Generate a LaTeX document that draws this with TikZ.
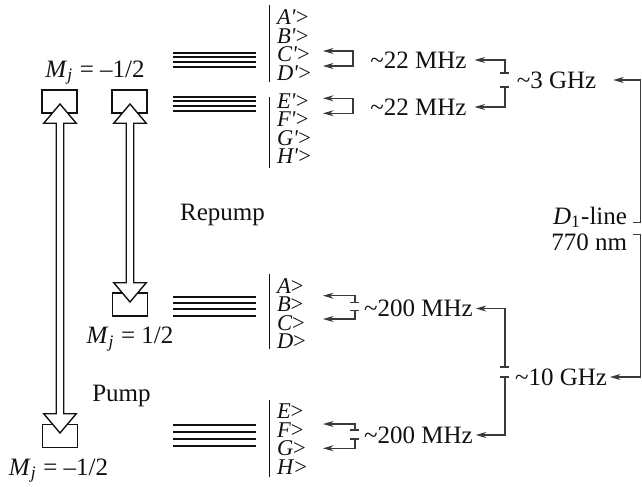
\documentclass[tikz,border=0pt]{standalone}
\usepackage{fontspec}
\setmainfont{Liberation Serif}
\usepackage{tikz}
\usetikzlibrary{positioning,arrows.meta,calc}
\definecolor{ink}{HTML}{111111}
\definecolor{wire}{HTML}{3A3A3A}
\newcommand{\ket}[1]{\textit{#1}>}
\newcommand{\ketp}[1]{\textit{#1\textquotesingle}>}
\newcommand{\Mj}{\textit{M}\textsubscript{\textit{j}} = }
\newcommand{\hollowarrow}[2]{%
  \draw[hollowarr] let \p1=(#1), \p2=(#2) in
    (\p1) -- (\x1+6.5pt,\y1-7.7pt) -- (\x1+1.5pt,\y1-7.7pt) -- (\x1+1.5pt,\y2+7.7pt)
    -- (\x1+6.5pt,\y2+7.7pt) -- (\x1,\y2) -- (\x1-6.5pt,\y2+7.7pt) -- (\x1-1.5pt,\y2+7.7pt)
    -- (\x1-1.5pt,\y1-7.7pt) -- (\x1-6.5pt,\y1-7.7pt) -- cycle;}

\begin{document}
\begin{tikzpicture}[
  x=0.4pt,y=-0.4pt,
  font=\fontsize{10}{9.2}\selectfont,
  >={Stealth[length=4.2pt,width=2.4pt]},
  lvlbox/.style={draw=ink,line width=0.55pt,minimum width=14pt,minimum height=9.2pt,inner sep=0pt},
  hollowarr/.style={draw=ink,fill=white,line width=0.55pt},
  lvl/.style={draw=ink,line width=0.7pt},
  bar/.style={draw=ink,line width=0.65pt},
  ket/.style={anchor=base west,inner sep=0pt,text=ink,font=\fontsize{9}{9}\selectfont},
  lbl/.style={anchor=base,inner sep=0pt,text=ink},
  freq/.style={inner sep=1pt,text=ink},
  conn/.style={->,draw=wire,line width=0.5pt},
  pair/.style={<->,draw=wire,line width=0.5pt},
  tick/.style={draw=wire,line width=0.5pt}]
\useasboundingbox (0,0) rectangle (642,487);

% sublevel boxes and pump / repump arrows
\node[lvlbox] (b1) at (59.5,101.5) {};
\node[lvlbox] (b2) at (129.5,101.5) {};
\node[lvlbox] (b3) at (130,304.5) {};
\node[lvlbox] (b4) at (60,436) {};
\hollowarrow{$(b1.center)+(0.5,2.5)$}{$(b4.center)+(0,-3)$}
\hollowarrow{$(b2.center)+(0.5,2.5)$}{$(b3.center)+(0,-2.5)$}
\node[lbl] (mj1) at (95,77) {\Mj\textendash1/2};
\node[lbl] (mj2) at (130,343.5) {\Mj1/2};
\node[lbl] (mj3) at (58.5,475) {\Mj\textendash1/2};
\node[lbl] (repump) at (222.5,220) {Repump};
\node[lbl] (pump) at (121.5,401.5) {Pump};

% hyperfine levels
\foreach \yl in {52.7,57.3,62,66.7,96.7,101.3,106,110.7,296.7,302.7,309.3,316,425,431.7,439,445.7}
  \draw[lvl] (173,\yl) -- (256,\yl);
\foreach \ya/\yb in {5/82,97/168,274/348.5,400/477}
  \draw[bar] (269.5,\ya) -- (269.5,\yb);
\foreach \n/\yb in {A/24.5,B/43,C/61.5,D/80,E/108,F/126.5,G/145,H/163.5}
  \node[ket] (kp\n) at (276.5,\yb) {\ketp{\n}};
\foreach \n/\yb in {A/293,B/311.5,C/330,D/348.5,E/418.5,F/437,G/455.5,H/474}
  \node[ket] (k\n) at (276.5,\yb) {\ket{\n}};

% splittings
\node[freq] (f22a) at (418.5,60) {\textasciitilde22 MHz};
\node[freq] (f22b) at (418.5,107) {\textasciitilde22 MHz};
\node[freq] (f3) at (556.5,80) {\textasciitilde3 GHz};
\node[freq] (f200a) at (418.5,308.5) {\textasciitilde200 MHz};
\node[freq] (f200b) at (418.5,435) {\textasciitilde200 MHz};
\node[freq] (f10) at (561,377) {\textasciitilde10 GHz};
\node[freq,anchor=east,align=right] (dline) at (630,228.5) {\textit{D}\textsubscript{1}-line\\[1.2pt]770 nm};

\coordinate (tCp) at (323,51);
\coordinate (tDp) at (323,66);
\coordinate (tEp) at (323,98.3);
\coordinate (tFp) at (323,113.3);
\coordinate (tB) at (323,295.7);
\coordinate (tC) at (323,319);
\coordinate (tF) at (323,424);
\coordinate (tG) at (323,448.3);
\coordinate (gB) at (355,306.7);
\coordinate (gF) at (355,434.5);
\coordinate (g3) at (505,80);
\coordinate (g10) at (505,372);
\coordinate (gD) at (640.5,228.5);

\draw[pair] (tCp) -- ++(30,0) |- (tDp);
\draw[pair] (tEp) -- ++(30,0) |- (tFp);
\draw[conn] (gB) ++(0,-4) |- (tB);
\draw[conn] (gB) ++(0,4) |- (tC);
\draw[tick] (gB) ++(-4.5,-4) -- ++(9,0) (gB) ++(-4.5,4) -- ++(9,0);
\draw[conn] (gF) ++(0,-4.5) |- (tF);
\draw[conn] (gF) ++(0,4.5) |- (tG);
\draw[tick] (gF) ++(-4.5,-4.5) -- ++(9,0) (gF) ++(-4.5,4.5) -- ++(9,0);
\draw[conn] (g3) ++(0,-7) |- ($(f22a.east)+(5,0)$);
\draw[conn] (g3) ++(0,7) |- ($(f22b.east)+(5,0)$);
\draw[tick] (g3) ++(-4.5,-7) -- ++(9,0) (g3) ++(-4.5,7) -- ++(9,0);
\draw[conn] (g10) ++(0,-5) |- (f200a.east);
\draw[conn] (g10) ++(0,5) |- (f200b.east);
\draw[tick] (g10) ++(-4.5,-5) -- ++(9,0) (g10) ++(-4.5,5) -- ++(9,0);
\draw[conn] (gD) ++(-7,-6) -- ++(7,0) |- ($(f3.east)+(14,0)$);
\draw[conn] (gD) ++(-7,6) -- ++(7,0) |- (f10.east);
\end{tikzpicture}
\end{document}
